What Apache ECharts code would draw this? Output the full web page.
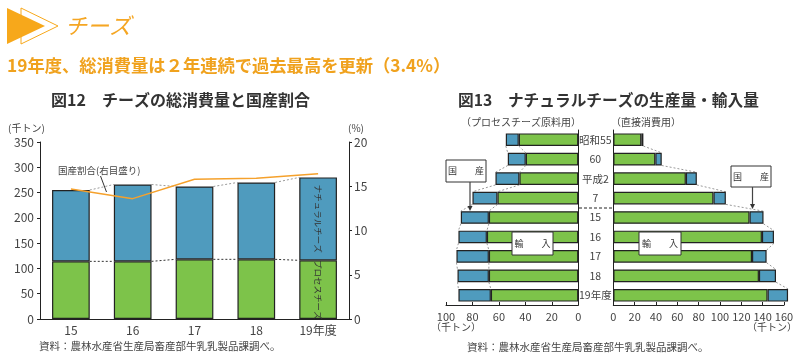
<!DOCTYPE html>
<html><head><meta charset="utf-8">
<script src="https://cdn.jsdelivr.net/npm/echarts/dist/echarts.min.js"></script>
<style>html,body{margin:0;padding:0;background:#fff}#c{width:800px;height:360px}</style>
</head><body><div id="c"></div>
<script>
// ---- Figure 12 data ----
const years = ['15', '16', '17', '18', '19年度'];
const processCheese = [114, 114, 118, 118, 116];
const naturalCheese = [141, 152, 144, 152, 164];
const domesticShare = [14.7, 13.6, 15.8, 15.9, 16.4];
const leftAxisTicks = [0, 50, 100, 150, 200, 250, 300, 350];
const rightAxisTicks = [0, 5, 10, 15, 20];

// ---- Figure 13 data ----
const rCats = ['昭和55', '60', '平成2', '7', '15', '16', '17', '18', '19年度'];
const procImport = [45, 39.7, 44.5, 61.1, 67.6, 69.1, 67.6, 67.6, 66.1];
const procDomestic = [9.8, 13.6, 18.1, 18.9, 21.2, 21.5, 24.5, 23.7, 24.5];
const directImport = [26.3, 39.4, 68, 93.9, 127.7, 139.3, 130, 136.5, 144.6];
const directDomestic = [1.9, 6, 10.3, 11.6, 13.1, 11.3, 13.7, 16, 19.2];
const procTicks = [0, 20, 40, 60, 80, 100];
const directTicks = [0, 20, 40, 60, 80, 100, 120, 140, 160];

const FF = "'Noto Sans CJK JP', 'Noto Sans', sans-serif";
const GREEN = '#7dc34a', BLUE = '#4f9bbe', ORANGE = '#f5a12c', BORDER = '#222';
const TXT = '#444';

const chart = echarts.init(document.getElementById('c'), null, {renderer: 'canvas'});

const totals = processCheese.map((v, i) => v + naturalCheese[i]);
const procTotals = procImport.map((v, i) => v + procDomestic[i]);
const directTotals = directImport.map((v, i) => v + directDomestic[i]);

function vConnector(values, color, dash) {
  return {
    type: 'custom', xAxisIndex: 0, yAxisIndex: 0, silent: true, z: 1,
    data: values.slice(0, -1).map((v, i) => [i, v, values[i + 1]]),
    renderItem(params, api) {
      const i = api.value(0);
      const p1 = api.coord([i, api.value(1)]);
      const p2 = api.coord([i + 1, api.value(2)]);
      const hw = api.size([1, 0])[0] * 0.61 / 2;
      return {type: 'line', shape: {x1: p1[0] + hw, y1: p1[1], x2: p2[0] - hw, y2: p2[1]},
        style: {stroke: color, lineWidth: 1, lineDash: dash}};
    }
  };
}
function hConnector(values, xi, yi, color, dash) {
  return {
    type: 'custom', xAxisIndex: xi, yAxisIndex: yi, silent: true, z: 1, clip: false,
    data: values.slice(0, -1).map((v, i) => [v, i, values[i + 1]]),
    renderItem(params, api) {
      const i = api.value(1);
      const p1 = api.coord([api.value(0), i]);
      const p2 = api.coord([api.value(2), i + 1]);
      const hh = api.size([0, 1])[1] * 0.65 / 2;
      return {type: 'line', shape: {x1: p1[0], y1: p1[1] + hh, x2: p2[0], y2: p2[1] - hh},
        style: {stroke: color, lineWidth: 1, lineDash: dash}};
    }
  };
}

function txt(x, y, text, opt) {
  opt = opt || {};
  return {type: 'text', x: x, y: y, silent: true, z: 10, rotation: opt.rotation || 0,
    style: {text: text, fill: opt.color || TXT, fontSize: opt.size || 11,
      fontWeight: opt.weight || 'normal', fontStyle: opt.style || 'normal', fontFamily: opt.family || FF,
      textAlign: opt.align || 'left', textVerticalAlign: 'middle', align: opt.align || 'left', verticalAlign: 'middle'}};
}
function box(x, y, w, h, label) {
  return [
    {type: 'rect', shape: {x: x, y: y, width: w, height: h}, style: {fill: '#fff', stroke: '#333', lineWidth: 1}, z: 20, silent: true},
    {type: 'text', x: x + w / 2, y: y + h / 2, z: 21, silent: true,
      style: {text: label, fill: '#333', fontSize: 9, fontFamily: FF, textAlign: 'center', textVerticalAlign: 'middle', align: 'center', verticalAlign: 'middle'}}
  ];
}
function arrow(x, y1, y2) {
  return [
    {type: 'line', shape: {x1: x, y1: y1, x2: x, y2: y2 - 4}, style: {stroke: '#444', lineWidth: 1.2}, z: 20, silent: true},
    {type: 'polygon', shape: {points: [[x - 2.5, y2 - 5], [x + 2.5, y2 - 5], [x, y2]]}, style: {fill: '#333'}, z: 20, silent: true}
  ];
}

const axisLineStyle = {lineStyle: {color: '#222', width: 1}};
const labelBase = {color: TXT, fontSize: 12, fontFamily: FF};
const labelSmall = {color: TXT, fontSize: 11, fontFamily: FF};

const graphic = [
  // header
  {type: 'polygon', shape: {points: [[21, 8], [58, 26], [21, 44]]}, style: {fill: 'none', stroke: '#f7a81b', lineWidth: 1}, silent: true},
  {type: 'polygon', shape: {points: [[7, 8], [45, 26], [7, 44]]}, style: {fill: '#f7a81b'}, silent: true},
  txt(65, 26, 'チーズ', {color: '#f5a623', size: 22, style: 'italic'}),
  txt(7, 65, '19年度、総消費量は２年連続で過去最高を更新（3.4%）', {color: '#f0a21e', size: 17.3, weight: 'bold'}),
  // figure 12
  txt(51, 100, '図12　チーズの総消費量と国産割合', {color: '#333', size: 16, weight: 'bold'}),
  txt(8, 128, '(千トン)', {size: 10}),
  txt(348, 128, '(%)', {size: 10}),
  txt(58, 170, '国産割合(右目盛り)', {size: 9.5}),
  {type: 'line', shape: {x1: 100.5, y1: 176, x2: 106.5, y2: 192}, style: {stroke: '#333', lineWidth: 1}, silent: true, z: 10},
  txt(39, 346, '資料：農林水産省生産局畜産部牛乳乳製品課調べ。', {size: 10.5}),
  // figure 13
  txt(458, 100, '図13　ナチュラルチーズの生産量・輸入量', {color: '#333', size: 15.7, weight: 'bold'}),
  txt(461, 122, '（プロセスチーズ原料用）', {size: 10}),
  txt(611, 122, '（直接消費用）', {size: 10}),
  txt(456, 327, '（千トン）', {size: 10, align: 'center'}),
  txt(772, 327, '（千トン）', {size: 10, align: 'center'}),
  {type: 'line', shape: {x1: 579, y1: 208, x2: 613, y2: 208}, style: {stroke: '#222', lineWidth: 1, lineDash: [3, 2]}, silent: true, z: 10},
  ...box(446, 160, 40, 22, '国　　産'),
  ...arrow(470, 182, 211),
  ...box(731, 166, 40, 21, '国　　産'),
  ...arrow(752.5, 187, 209),
  ...box(512, 232, 41, 23, '輸　　入'),
  ...box(639, 232, 42, 23, '輸　　入'),
  txt(467, 347, '資料：農林水産省生産局畜産部牛乳乳製品課調べ。', {size: 10.5})
];

const option = {
  animation: false,
  textStyle: {fontFamily: FF},
  grid: [
    {left: 40, right: 451, top: 142, bottom: 41},
    {left: 446, right: 221.7, top: 130, height: 175},
    {left: 613.3, right: 16, top: 130, height: 175}
  ],
  xAxis: [
    {type: 'category', gridIndex: 0, data: years, axisLine: axisLineStyle, axisTick: {show: false},
      axisLabel: Object.assign({margin: 5}, labelBase)},
    {type: 'value', gridIndex: 1, min: procTicks[0], max: procTicks[procTicks.length - 1], interval: 20, inverse: true,
      axisLine: {show: true, lineStyle: {color: '#222', width: 1}}, axisTick: {show: true, inside: true, length: 3, lineStyle: {color: '#222'}},
      splitLine: {show: false}, axisLabel: Object.assign({margin: 6}, labelSmall)},
    {type: 'value', gridIndex: 2, min: directTicks[0], max: directTicks[directTicks.length - 1], interval: 20,
      axisLine: {show: true, lineStyle: {color: '#222', width: 1}}, axisTick: {show: true, inside: true, length: 3, lineStyle: {color: '#222'}},
      splitLine: {show: false}, axisLabel: Object.assign({margin: 6}, labelSmall)}
  ],
  yAxis: [
    {type: 'value', gridIndex: 0, min: leftAxisTicks[0], max: leftAxisTicks[leftAxisTicks.length - 1], interval: 50,
      axisLine: {show: true, lineStyle: {color: '#222', width: 1}}, axisTick: {show: true, length: 3, lineStyle: {color: '#222'}},
      splitLine: {show: false}, axisLabel: Object.assign({margin: 6}, labelBase)},
    {type: 'value', gridIndex: 0, position: 'right', min: rightAxisTicks[0], max: rightAxisTicks[rightAxisTicks.length - 1], interval: 5,
      axisLine: {show: true, lineStyle: {color: '#222', width: 1}}, axisTick: {show: true, length: 3, lineStyle: {color: '#222'}},
      splitLine: {show: false}, axisLabel: Object.assign({margin: 5}, labelBase)},
    {type: 'category', gridIndex: 1, data: rCats, inverse: true, position: 'right',
      axisLine: {show: true, lineStyle: {color: '#222', width: 1}}, axisTick: {show: false},
      axisLabel: {margin: 17, align: 'center', color: TXT, fontSize: 10.5, fontFamily: FF}},
    {type: 'category', gridIndex: 2, data: rCats, inverse: true, position: 'left',
      axisLine: {show: true, lineStyle: {color: '#222', width: 1}}, axisTick: {show: false}, axisLabel: {show: false}}
  ],
  series: [
    vConnector(totals, '#999', [2, 2]),
    vConnector(processCheese, '#333', [2, 2]),
    {type: 'bar', name: 'プロセスチーズ', xAxisIndex: 0, yAxisIndex: 0, stack: 'a', barWidth: '61%', z: 3,
      itemStyle: {color: GREEN, borderColor: BORDER, borderWidth: 1.2},
      data: processCheese.map((v, i) => i === processCheese.length - 1 ?
        {value: v, label: {show: true, position: 'inside', rotate: -90, formatter: 'プロセスチーズ', fontSize: 8.5, color: '#333', fontFamily: FF}} : v)},
    {type: 'bar', name: 'ナチュラルチーズ', xAxisIndex: 0, yAxisIndex: 0, stack: 'a', barWidth: '61%', z: 3,
      itemStyle: {color: BLUE, borderColor: BORDER, borderWidth: 1.2},
      data: naturalCheese.map((v, i) => i === naturalCheese.length - 1 ?
        {value: v, label: {show: true, position: 'inside', rotate: -90, formatter: 'ナチュラルチーズ', fontSize: 8.5, color: '#333', fontFamily: FF}} : v)},
    {type: 'line', name: '国産割合', xAxisIndex: 0, yAxisIndex: 1, data: domesticShare, symbol: 'none', z: 6,
      lineStyle: {color: ORANGE, width: 1.5}},
    // figure 13 left
    hConnector(procTotals, 1, 2, '#999', [2, 2]),
    hConnector(procImport, 1, 2, '#999', [2, 2]),
    {type: 'bar', name: '輸入', xAxisIndex: 1, yAxisIndex: 2, stack: 'p', barWidth: '65%', z: 3,
      itemStyle: {color: GREEN, borderColor: BORDER, borderWidth: 1.2}, data: procImport},
    {type: 'bar', name: '国産', xAxisIndex: 1, yAxisIndex: 2, stack: 'p', barWidth: '65%', z: 3,
      itemStyle: {color: BLUE, borderColor: BORDER, borderWidth: 1.2}, data: procDomestic},
    // figure 13 right
    hConnector(directTotals, 2, 3, '#999', [2, 2]),
    {type: 'bar', name: '輸入', xAxisIndex: 2, yAxisIndex: 3, stack: 'd', barWidth: '65%', z: 3, clip: false,
      itemStyle: {color: GREEN, borderColor: BORDER, borderWidth: 1.2}, data: directImport},
    {type: 'bar', name: '国産', xAxisIndex: 2, yAxisIndex: 3, stack: 'd', barWidth: '65%', z: 3, clip: false,
      itemStyle: {color: BLUE, borderColor: BORDER, borderWidth: 1.2}, data: directDomestic}
  ],
  graphic: graphic
};
chart.setOption(option);
</script>
</body></html>
